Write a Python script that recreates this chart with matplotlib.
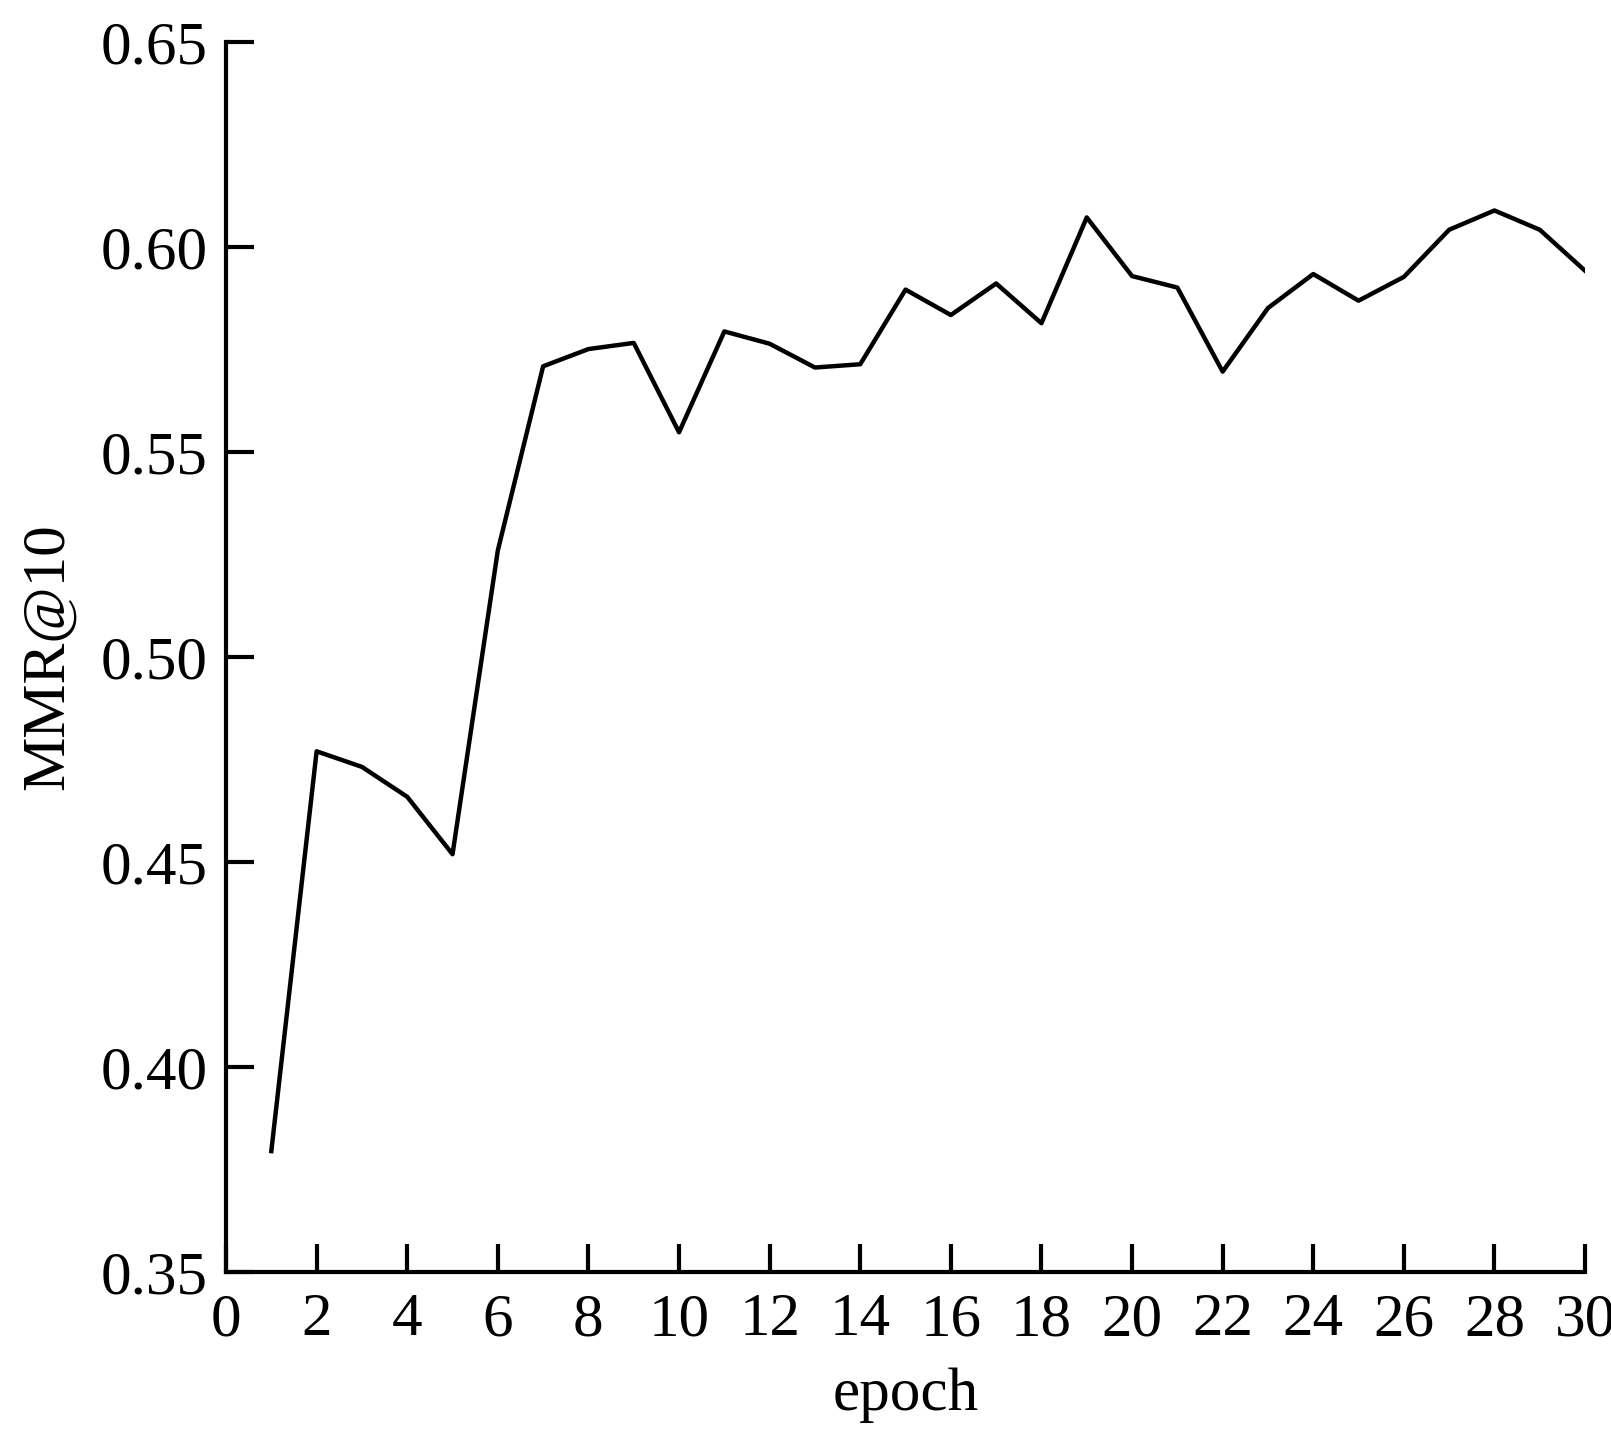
import matplotlib
matplotlib.use("Agg")
import matplotlib.pyplot as plt

epochs = list(range(1, 31))
mmr10 = [0.3795, 0.4770, 0.4732, 0.4659, 0.4519, 0.5260, 0.5709, 0.5751, 0.5766, 0.5548,
         0.5794, 0.5764, 0.5706, 0.5714, 0.5896, 0.5834, 0.5911, 0.5814, 0.6072, 0.5929,
         0.5901, 0.5696, 0.5851, 0.5934, 0.5869, 0.5927, 0.6042, 0.6089, 0.6042, 0.5942]
xticks = list(range(0, 31, 2))
yticks = [0.35, 0.40, 0.45, 0.50, 0.55, 0.60, 0.65]
ytick_labels = ["0.35", "0.40", "0.45", "0.50", "0.55", "0.60", "0.65"]

plt.rcParams['font.family'] = ['Liberation Serif', 'DejaVu Serif']
fig = plt.figure(figsize=(16.11, 14.32), dpi=100)
ax = fig.add_axes([0.1403, 0.1117, 0.9839 - 0.1403, 0.9707 - 0.1117])
ax.plot(epochs, mmr10, color='black', linewidth=3.2)
ax.set_xlim(0, 30)
ax.set_ylim(0.35, 0.65)
ax.set_xticks(xticks)
ax.set_yticks(yticks)
ax.set_yticklabels(ytick_labels)
for s in ['top', 'right']:
    ax.spines[s].set_visible(False)
for s in ['left', 'bottom']:
    ax.spines[s].set_linewidth(3)
ax.tick_params(axis='both', direction='in', length=20, width=3, labelsize=44)
ax.tick_params(axis='x', pad=15)
ax.tick_params(axis='y', pad=13)
ax.set_xlabel('epoch', fontsize=44, labelpad=14)
ax.set_ylabel('MMR@10', fontsize=44, labelpad=18)
fig.savefig('out.png', dpi=100)
